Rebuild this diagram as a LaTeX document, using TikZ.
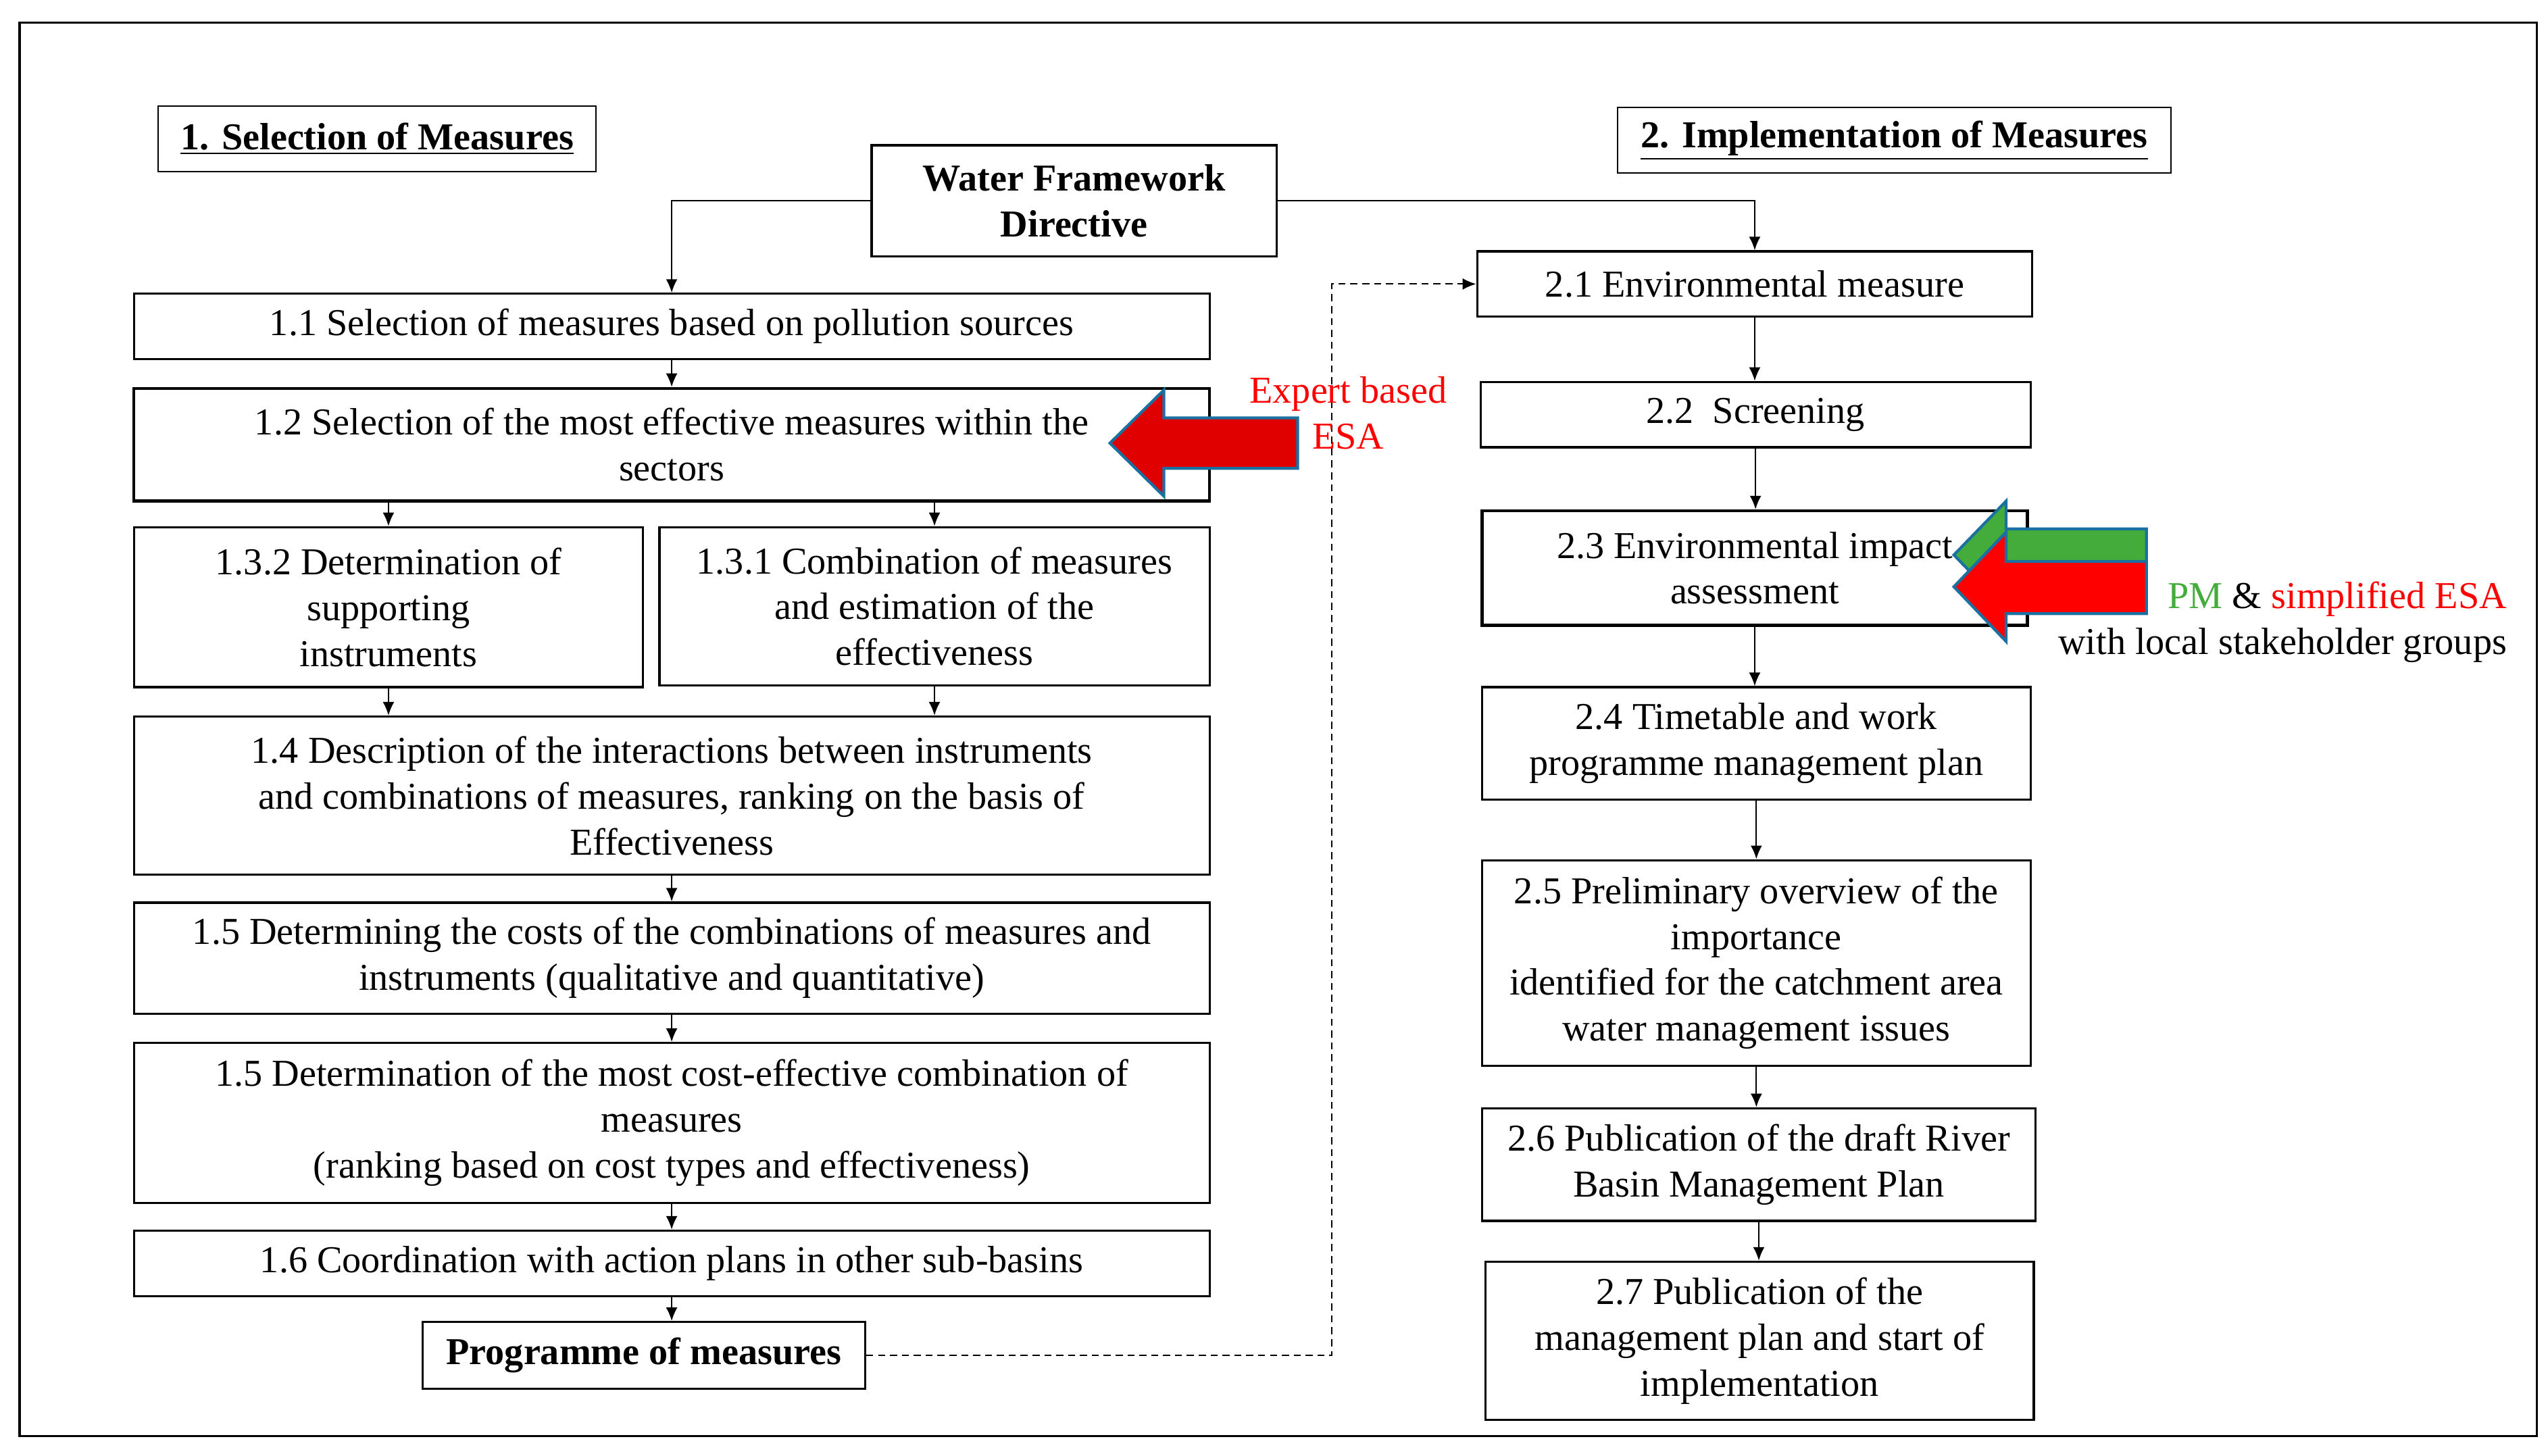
\documentclass[tikz,border=0pt]{standalone}
\usepackage{fontspec}
\setmainfont{Liberation Serif}
\usetikzlibrary{arrows.meta,calc}
\definecolor{arrowred}{HTML}{E00000}
\definecolor{brightred}{HTML}{FF0000}
\definecolor{pmgreen}{HTML}{43AC3A}
\definecolor{edgeblue}{HTML}{1A70A0}
\begin{document}
\begin{tikzpicture}[x=0.024158cm, y=-0.024158cm,
  every node/.style={font=\fontsize{16}{19.3}\selectfont},
  sz/.style 2 args={minimum width=#1*0.024158cm, minimum height=#2*0.024158cm},
  box/.style={draw, line width=0.9pt, inner sep=0pt, align=center},
  thickbox/.style={box, line width=1.3pt},
  headbox/.style={draw, line width=0.6pt, inner sep=0pt, align=center, font=\fontsize{16}{19.3}\selectfont\bfseries},
  conn/.style={line width=0.6pt, -{Latex[length=0.2cm,width=0.17cm]}},
  dconn/.style={line width=0.6pt, dashed, dash pattern=on 3pt off 2pt, -{Latex[length=0.2cm,width=0.17cm]}},
  bigarrow/.style={line width=1.2pt, draw=edgeblue, line join=miter}
]
\useasboundingbox (0,0) rectangle (1561,892);
\draw[line width=0.9pt] (12,14) rectangle (1554,880);

% headings
\node[headbox, sz={268}{40}] (h1) at (231,85) {\underline{1. Selection of Measures}};
\node[headbox, sz={339}{40}] (h2) at (1160.5,86) {\underline{2. Implementation of Measures}};
\node[headbox, line width=0.9pt, sz={248}{68}] (wfd) at (658,123) {Water Framework\\Directive};

% left column
\node[box, sz={659}{40}] (b11) at (411.5,200) {1.1 Selection of measures based on pollution sources};
\node[thickbox, sz={659}{69}] (b12) at (411.5,272.5) {1.2 Selection of the most effective measures within the\\sectors};
\node[box, sz={312}{98}] (b132) at (238,372) {1.3.2 Determination of\\supporting\\instruments};
\node[box, sz={337}{97}] (b131) at (572.5,371.5) {1.3.1 Combination of measures\\and estimation of the\\effectiveness};
\node[box, sz={659}{97}] (b14) at (411.5,487.5) {1.4 Description of the interactions between instruments\\and combinations of measures, ranking on the basis of\\Effectiveness};
\node[box, sz={659}{68}] (b15a) at (411.5,587) {1.5 Determining the costs of the combinations of measures and\\instruments (qualitative and quantitative)};
\node[box, sz={659}{98}] (b15b) at (411.5,688) {1.5 Determination of the most cost-effective combination of\\measures\\(ranking based on cost types and effectiveness)};
\node[box, sz={659}{40}] (b16) at (411.5,774) {1.6 Coordination with action plans in other sub-basins};
\node[headbox, line width=0.9pt, sz={271}{41}] (pm) at (394.5,830.5) {Programme of measures};

% right column
\node[box, sz={340}{40}] (b21) at (1075,174) {2.1 Environmental measure};
\node[box, sz={337}{40}] (b22) at (1075.5,254) {2.2\ \ Screening};
\node[thickbox, sz={334}{70}] (b23) at (1075,348) {2.3 Environmental impact\\assessment};
\node[box, sz={336}{69}] (b24) at (1076,455.5) {2.4 Timetable and work\\programme management plan};
\node[box, sz={336}{126}] (b25) at (1076,590) {2.5 Preliminary overview of the\\importance\\identified for the catchment area\\water management issues};
\node[box, sz={339}{69}] (b26) at (1077.5,713.5) {2.6 Publication of the draft River\\Basin Management Plan};
\node[box, sz={336}{97}] (b27) at (1078,821.5) {2.7 Publication of the\\management plan and start of\\implementation};

% connectors
\draw[conn] (wfd.west) -| (b11.north);
\draw[conn] (wfd.east) -| (b21.north);
\draw[conn] (b11.south) -- (b12.north);
\draw[conn] (b12.south -| b132.north) -- (b132.north);
\draw[conn] (b12.south -| b131.north) -- (b131.north);
\draw[conn] (b132.south) -- (b132.south |- b14.north);
\draw[conn] (b131.south) -- (b131.south |- b14.north);
\draw[conn] (b14.south) -- (b15a.north);
\draw[conn] (b15a.south) -- (b15b.north);
\draw[conn] (b15b.south) -- (b16.north);
\draw[conn] (b16.south) -- (b16.south |- pm.north);

\draw[conn] (b21.south) -- (b21.south |- b22.north);
\draw[conn] (b22.south) -- (b22.south |- b23.north);
\draw[conn] (b23.south) -- (b23.south |- b24.north);
\draw[conn] (b24.south) -- (b24.south |- b25.north);
\draw[conn] (b25.south) -- (b25.south |- b26.north);
\draw[conn] (b26.south) -- (b26.south |- b27.north);

\coordinate (dc) at (816,830.5);
\draw[dconn] (pm.east) -- (dc) |- (b21.west);

% big arrows
\filldraw[bigarrow, fill=arrowred] (795,256) -- (713,256) -- (713,239) -- (680,271.5) -- (713,304) -- (713,287) -- (795,287) -- cycle;
\filldraw[bigarrow, fill=pmgreen] (1315,324) -- (1229,324) -- (1229,307) -- (1197,340) -- (1229,373) -- (1229,356) -- (1315,356) -- cycle;
\filldraw[bigarrow, fill=brightred] (1315,344) -- (1229,344) -- (1229,326) -- (1197,359.5) -- (1229,393) -- (1229,376) -- (1315,376) -- cycle;

% labels
\node[text=brightred, align=center, inner sep=0pt] (lab1) at (826,253) {Expert based\\ESA};
\node[align=right, anchor=east, inner sep=0pt] (lab2) at (1536,381) {\textcolor{pmgreen}{PM} \& \textcolor{brightred}{simplified ESA}\\with local stakeholder groups};
\end{tikzpicture}
\end{document}
